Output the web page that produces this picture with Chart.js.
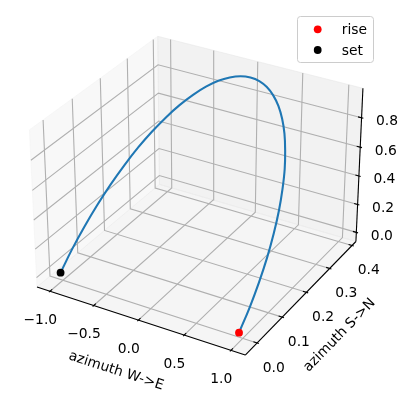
<!DOCTYPE html>
<html>
<head>
<meta charset="utf-8">
<style>
    html, body { margin: 0; padding: 0; background: #fff; overflow: hidden; }
    canvas { display: block; }
</style>
<script src="https://cdn.jsdelivr.net/npm/chart.js@4"></script>
</head>
<body>
<canvas id="chart" width="408" height="398"></canvas>
<script>
// values
const sunX = [1, .995, .978, .951, .914, .866, .809, .743, .669, .588, .5, .407, .309, .208, .105, 0,
    -.105, -.208, -.309, -.407, -.5, -.588, -.669, -.743, -.809, -.866, -.914, -.951, -.978, -.995, -1];
const sunY = [-.015, .027, .069, .11, .149, .187, .222, .255, .284, .311, .334, .353, .368, .379, .386, .388,
    .386, .379, .369, .354, .335, .313, .287, .257, .225, .191, .154, .115, .075, .034, -.007];
const sunZ = [0, .097, .193, .287, .378, .465, .547, .622, .691, .752, .805, .85, .885, .91, .925, .93,
    .925, .91, .885, .85, .805, .752, .691, .622, .547, .465, .378, .287, .193, .097, 0];
const riseLabel = 'rise';
const setLabel = 'set';

const xTicks = [-1, -0.5, 0, 0.5, 1];
const yTicks = [0, 0.1, 0.2, 0.3, 0.4];
const zTicks = [0, 0.2, 0.4, 0.6, 0.8];
const xTickLabels = ['\u22121.0', '\u22120.5', '0.0', '0.5', '1.0'];
const yTickLabels = ['0.0', '0.1', '0.2', '0.3', '0.4'];
const zTickLabels = ['0.0', '0.2', '0.4', '0.6', '0.8'];
const xLabel = 'azimuth W->E';
const yLabel = 'azimuth S->N';

const xLim = [-1.151, 1.151];
const yLim = [-0.0455, 0.4176];
const zLim = [-0.066, 0.998];

// same camera as a default mplot3d axes: elev 30, azim -60, dist 10
const box = [1.19, 1.19, 0.893];
const W = 408, H = 398;
const scale2d = 2005, originX = 199.4, originY = 188;

function project(x, y, z) {
    const dx = ((x - xLim[0]) / (xLim[1] - xLim[0]) - 0.5) * box[0];
    const dy = ((y - yLim[0]) / (yLim[1] - yLim[0]) - 0.5) * box[1];
    const dz = ((z - zLim[0]) / (zLim[1] - zLim[0]) - 0.5) * box[2];
    const depth = 10 - (0.433 * dx - 0.75 * dy + 0.5 * dz);
    return {
        x: (0.866 * dx + 0.5 * dy) / depth,
        y: (-0.25 * dx + 0.433 * dy + 0.866 * dz) / depth
    };
}

function path(points) {
    return points.map(p => project(p[0], p[1], p[2]));
}

function lineSet(points, color, width) {
    return {
        data: path(points), showLine: true, pointRadius: 0,
        borderColor: color, borderWidth: width, tension: 0, clip: false
    };
}

function paneSet(points, color) {
    const set = lineSet(points, color, 1);
    set.fill = 'shape';
    set.backgroundColor = color;
    return set;
}

const [x0, x1] = xLim, [y0, y1] = yLim, [z0, z1] = zLim;
const xStep = (x1 - x0) / 12, yStep = (y1 - y0) / 12;

const layers = [
    paneSet([[x0, y0, z0], [x0, y1, z0], [x0, y1, z1], [x0, y0, z1], [x0, y0, z0]], 'rgba(242,242,242,0.5)'),
    paneSet([[x0, y1, z0], [x1, y1, z0], [x1, y1, z1], [x0, y1, z1], [x0, y1, z0]], 'rgba(230,230,230,0.5)'),
    paneSet([[x0, y0, z0], [x1, y0, z0], [x1, y1, z0], [x0, y1, z0], [x0, y0, z0]], 'rgba(236,236,236,0.5)')
];

xTicks.forEach(t => layers.push(lineSet([[t, y0, z0], [t, y1, z0], [t, y1, z1]], '#b0b0b0', 1.1)));
yTicks.forEach(t => layers.push(lineSet([[x1, t, z0], [x0, t, z0], [x0, t, z1]], '#b0b0b0', 1.1)));
zTicks.forEach(t => layers.push(lineSet([[x0, y0, t], [x0, y1, t], [x1, y1, t]], '#b0b0b0', 1.1)));

layers.push(lineSet([[x0, y0, z0], [x1, y0, z0]], '#000', 1.1));
layers.push(lineSet([[x1, y0, z0], [x1, y1, z0]], '#000', 1.1));
layers.push(lineSet([[x1, y1, z0], [x1, y1, z1]], '#000', 1.1));

xTicks.forEach(t => layers.push(lineSet([[t, y0 - yStep * 0.1, z0], [t, y0 + yStep * 0.2, z0]], '#000', 1.1)));
yTicks.forEach(t => layers.push(lineSet([[x1 + xStep * 0.1, t, z0], [x1 - xStep * 0.2, t, z0]], '#000', 1.1)));
zTicks.forEach(t => layers.push(lineSet([[x1 + xStep * 0.1, y1, t], [x1 - xStep * 0.2, y1, t]], '#000', 1.1)));

const sunPath = lineSet(sunX.map((v, i) => [v, sunY[i], sunZ[i]]), '#1f77b4', 2.08);
sunPath.tension = 0.4;
layers.push(sunPath);

const last = sunX.length - 1;
function markerSet(i, color) {
    return {
        data: [project(sunX[i], sunY[i], sunZ[i])],
        pointRadius: 3.9, pointBackgroundColor: color, pointBorderWidth: 0, clip: false
    };
}
layers.push(markerSet(0, '#ff0000'));
layers.push(markerSet(last, '#000000'));

const FONT = '13.89px "DejaVu Sans"';

const labelsPlugin = {
    id: 'labels3d',
    afterDraw(chart) {
        const ctx = chart.ctx;
        const sx = chart.scales.x, sy = chart.scales.y;
        const toPixel = (x, y, z) => {
            const p = project(x, y, z);
            return [sx.getPixelForValue(p.x), sy.getPixelForValue(p.y)];
        };

        ctx.save();
        ctx.font = FONT;
        ctx.fillStyle = '#000';
        ctx.textAlign = 'center';
        ctx.textBaseline = 'middle';

        xTicks.forEach((t, i) => {
            const [px, py] = toPixel(t, y0, z0);
            ctx.fillText(xTickLabels[i], px - 9.7, py + 29);
        });
        yTicks.forEach((t, i) => {
            const [px, py] = toPixel(x1, t, z0);
            ctx.fillText(yTickLabels[i], px + 16.7, py + 25);
        });
        zTicks.forEach((t, i) => {
            const [px, py] = toPixel(x1, y1, t);
            ctx.fillText(zTickLabels[i], px + 25.5, py + 3.8);
        });

        // axis titles follow their edge
        const title = (text, a, b, dx, dy) => {
            const [ax, ay] = toPixel(a[0], a[1], a[2]);
            const [bx, by] = toPixel(b[0], b[1], b[2]);
            ctx.save();
            ctx.translate((ax + bx) / 2 + dx, (ay + by) / 2 + dy);
            ctx.rotate(Math.atan2(by - ay, bx - ax));
            ctx.fillText(text, 0, 0);
            ctx.restore();
        };
        title(xLabel, [x0, y0, z0], [x1, y0, z0], -25, 50);
        title(yLabel, [x1, y0, z0], [x1, y1, z0], 39, 37);

        // legend box
        const boxL = 297.5, boxT = 16.5, boxW = 76, boxH = 46;
        ctx.beginPath();
        ctx.roundRect(boxL, boxT, boxW, boxH, 3);
        ctx.fillStyle = 'rgba(255,255,255,0.8)';
        ctx.fill();
        ctx.strokeStyle = '#cccccc';
        ctx.lineWidth = 1;
        ctx.stroke();

        const rows = [[riseLabel, '#ff0000', 29.3, 34], [setLabel, '#000000', 50, 54.6]];
        ctx.textAlign = 'left';
        ctx.textBaseline = 'alphabetic';
        rows.forEach(([text, color, my, base]) => {
            ctx.beginPath();
            ctx.arc(317.7, my, 3.9, 0, Math.PI * 2);
            ctx.fillStyle = color;
            ctx.fill();
            ctx.fillStyle = '#000';
            ctx.fillText(text, 341.7, base);
        });
        ctx.restore();
    }
};

new Chart(document.getElementById('chart'), {
    type: 'scatter',
    // the library paints the first dataset last
    data: { datasets: layers.slice().reverse() },
    options: {
        responsive: false,
        animation: false,
        layout: { padding: 0, autoPadding: false },
        plugins: { legend: { display: false }, tooltip: { enabled: false } },
        scales: {
            x: { type: 'linear', display: false, min: -originX / scale2d, max: (W - originX) / scale2d },
            y: { type: 'linear', display: false, min: (originY - H) / scale2d, max: originY / scale2d }
        }
    },
    plugins: [labelsPlugin]
});
</script>
</body>
</html>
